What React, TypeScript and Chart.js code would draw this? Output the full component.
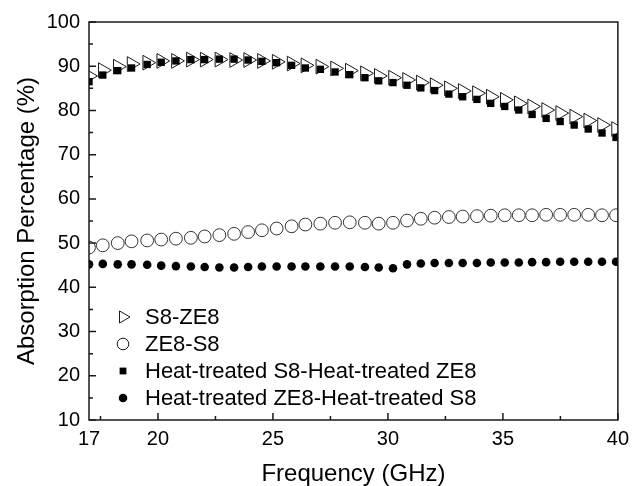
import React, { useEffect, useRef } from "react";
import { Chart, registerables } from "chart.js";

Chart.register(...registerables);

const frequency = [
  17.0, 17.6, 18.25, 18.85, 19.53, 20.14, 20.78, 21.43, 22.03, 22.67,
  23.31, 23.92, 24.52, 25.16, 25.81, 26.41, 27.06, 27.7, 28.34, 29.0,
  29.6, 30.22, 30.83, 31.43, 32.03, 32.65, 33.25, 33.87, 34.47, 35.08,
  35.69, 36.27, 36.88, 37.49, 38.1, 38.71, 39.31, 39.92,
];

const s8ZE8 = [
  87.8, 89.1, 89.9, 90.5, 90.8, 91.2, 91.2, 91.5, 91.5, 91.5,
  91.4, 91.4, 91.2, 91.0, 90.6, 90.2, 89.9, 89.5, 89.0, 88.4,
  87.8, 87.4, 86.9, 86.3, 85.7, 85.0, 84.4, 83.9, 83.1, 82.4,
  81.6, 80.9, 80.1, 79.4, 78.6, 77.7, 76.7, 75.8,
];

const ze8S8 = [
  49.0, 49.5, 50.0, 50.4, 50.6, 50.8, 51.0, 51.2, 51.5, 51.8,
  52.1, 52.5, 52.9, 53.3, 53.8, 54.2, 54.4, 54.6, 54.7, 54.6,
  54.4, 54.6, 55.1, 55.5, 55.75, 55.9, 56.0, 56.1, 56.2, 56.3,
  56.3, 56.3, 56.4, 56.4, 56.4, 56.4, 56.3, 56.3,
];

const heatS8HeatZE8 = [
  86.5, 88.0, 89.0, 89.6, 90.4, 90.9, 91.2, 91.5, 91.5, 91.6,
  91.6, 91.4, 91.1, 90.8, 90.2, 89.6, 89.3, 88.7, 88.1, 87.4,
  86.7, 86.3, 85.7, 85.1, 84.5, 83.7, 83.1, 82.5, 81.6, 80.9,
  80.1, 79.1, 78.2, 77.5, 76.7, 75.8, 74.9, 73.9,
];

const heatZE8HeatS8 = [
  45.2, 45.3, 45.2, 45.2, 45.1, 44.9, 44.8, 44.7, 44.6, 44.5,
  44.5, 44.6, 44.7, 44.7, 44.7, 44.7, 44.7, 44.7, 44.7, 44.6,
  44.5, 44.3, 45.2, 45.4, 45.5, 45.5, 45.5, 45.5, 45.6, 45.6,
  45.6, 45.7, 45.7, 45.8, 45.8, 45.8, 45.8, 45.8,
];

const seriesLabels = [
  "S8-ZE8",
  "ZE8-S8",
  "Heat-treated S8-Heat-treated ZE8",
  "Heat-treated ZE8-Heat-treated S8",
];

const xTickLabels = [17, 20, 25, 30, 35, 40];
const xMajorTicks = [20, 25, 30, 35, 40];
const xMinorTicks = [17.5, 22.5, 27.5, 32.5, 37.5];
const yTickLabels = [10, 20, 30, 40, 50, 60, 70, 80, 90, 100];
const yMinorTicks = [15, 25, 35, 45, 55, 65, 75, 85, 95];

const FONT = "'Liberation Sans', Arial, Helvetica, sans-serif";
const INK = "#1a1a1a";

function toPoints(ys: number[]) {
  return ys.map((v, i) => ({ x: frequency[i], y: v }));
}

function drawMarker(ctx: CanvasRenderingContext2D, kind: string, x: number, y: number) {
  ctx.save();
  ctx.lineWidth = 1;
  ctx.strokeStyle = INK;
  ctx.beginPath();
  if (kind === "tri") {
    const r = 7;
    ctx.moveTo(x + r, y);
    ctx.lineTo(x - r / 2, y - (r * Math.sqrt(3)) / 2);
    ctx.lineTo(x - r / 2, y + (r * Math.sqrt(3)) / 2);
    ctx.closePath();
    ctx.fillStyle = "#fff";
    ctx.fill();
    ctx.stroke();
  } else if (kind === "ocirc") {
    ctx.arc(x, y, 5.8, 0, Math.PI * 2);
    ctx.fillStyle = "#fff";
    ctx.fill();
    ctx.stroke();
  } else if (kind === "rect") {
    ctx.fillStyle = "#000";
    ctx.fillRect(x - 3.4, y - 3.4, 6.8, 6.8);
  } else {
    ctx.arc(x, y, 4.3, 0, Math.PI * 2);
    ctx.fillStyle = "#000";
    ctx.fill();
  }
  ctx.restore();
}

const decorPlugin = {
  id: "decor",
  afterDraw(chart: any) {
    const { ctx, chartArea: a, scales } = chart;
    const xs = scales.x;
    const ys = scales.y;
    ctx.save();
    ctx.strokeStyle = INK;
    ctx.lineWidth = 1.5;
    ctx.beginPath();
    xMajorTicks.forEach((v) => {
      const p = xs.getPixelForValue(v);
      ctx.moveTo(p, a.bottom);
      ctx.lineTo(p, a.bottom - 7);
    });
    xMinorTicks.forEach((v) => {
      const p = xs.getPixelForValue(v);
      ctx.moveTo(p, a.bottom);
      ctx.lineTo(p, a.bottom - 4);
    });
    yTickLabels.forEach((v) => {
      const p = ys.getPixelForValue(v);
      ctx.moveTo(a.left, p);
      ctx.lineTo(a.left + 7, p);
    });
    yMinorTicks.forEach((v) => {
      const p = ys.getPixelForValue(v);
      ctx.moveTo(a.left, p);
      ctx.lineTo(a.left + 4, p);
    });
    ctx.stroke();
    ctx.strokeRect(a.left, a.top, a.right - a.left, a.bottom - a.top);

    // legend
    const kinds = ["tri", "ocirc", "rect", "fcirc"];
    const mx = a.left + 34;
    const tx = a.left + 56;
    const y0 = a.top + 295;
    ctx.font = `22px ${FONT}`;
    ctx.fillStyle = "#000";
    ctx.textAlign = "left";
    ctx.textBaseline = "middle";
    seriesLabels.forEach((label, i) => {
      const yy = y0 + i * 27;
      drawMarker(ctx, kinds[i], mx, yy);
      ctx.fillStyle = "#000";
      ctx.fillText(label, tx, yy + 1);
    });
    ctx.restore();
  },
};

export default function App() {
  const ref = useRef<HTMLCanvasElement | null>(null);

  useEffect(() => {
    document.body.style.margin = "0";
    const canvas = ref.current;
    if (!canvas) return;
    const chart = new Chart(canvas, {
      type: "scatter",
      data: {
        datasets: [
          {
            label: seriesLabels[0],
            data: toPoints(s8ZE8),
            pointStyle: "triangle",
            rotation: 90,
            radius: 8.5,
            borderWidth: 1,
            borderColor: INK,
            backgroundColor: "#fff",
            order: 1,
            clip: 0,
          },
          {
            label: seriesLabels[1],
            data: toPoints(ze8S8),
            pointStyle: "circle",
            radius: 6.4,
            borderWidth: 1,
            borderColor: "#333",
            backgroundColor: "#fff",
            order: 2,
            clip: 0,
          },
          {
            label: seriesLabels[2],
            data: toPoints(heatS8HeatZE8),
            pointStyle: "rect",
            radius: 5.2,
            borderWidth: 0,
            borderColor: "#000",
            backgroundColor: "#000",
            order: 0,
            clip: 0,
          },
          {
            label: seriesLabels[3],
            data: toPoints(heatZE8HeatS8),
            pointStyle: "circle",
            radius: 4.3,
            borderWidth: 0,
            borderColor: "#000",
            backgroundColor: "#000",
            order: 3,
            clip: 0,
          },
        ],
      } as any,
      options: {
        responsive: false,
        animation: false,
        devicePixelRatio: 1,
        layout: { padding: { left: 0, right: 11, top: 22, bottom: 0 } },
        plugins: {
          legend: { display: false },
          tooltip: { enabled: false },
        },
        scales: {
          x: {
            type: "linear",
            min: 17,
            max: 40,
            afterBuildTicks: (s: any) => {
              s.ticks = xTickLabels.map((v) => ({ value: v }));
            },
            afterFit: (s: any) => {
              s.height = 66;
            },
            grid: { display: false, drawTicks: false },
            border: { display: false },
            ticks: {
              padding: 7,
              color: "#000",
              font: { family: FONT, size: 20 },
              maxRotation: 0,
              autoSkip: false,
            },
            title: {
              display: true,
              text: "Frequency (GHz)",
              color: "#000",
              font: { family: FONT, size: 24, lineHeight: 1 },
              padding: 0,
            },
          },
          y: {
            type: "linear",
            min: 10,
            max: 100,
            afterBuildTicks: (s: any) => {
              s.ticks = yTickLabels.map((v) => ({ value: v }));
            },
            afterFit: (s: any) => {
              s.width = 89;
            },
            grid: { display: false, drawTicks: false },
            border: { display: false },
            ticks: {
              padding: 9,
              color: "#000",
              font: { family: FONT, size: 20 },
              autoSkip: false,
            },
            title: {
              display: true,
              text: "Absorption Percentage (%)",
              color: "#000",
              font: { family: FONT, size: 24, lineHeight: 1 },
              padding: { top: 15, bottom: 0 },
            },
          },
        },
      } as any,
      plugins: [decorPlugin],
    });
    return () => chart.destroy();
  }, []);

  return (
    <canvas
      ref={ref}
      width={636}
      height={486}
      style={{ display: "block", width: 636, height: 486 }}
    />
  );
}
